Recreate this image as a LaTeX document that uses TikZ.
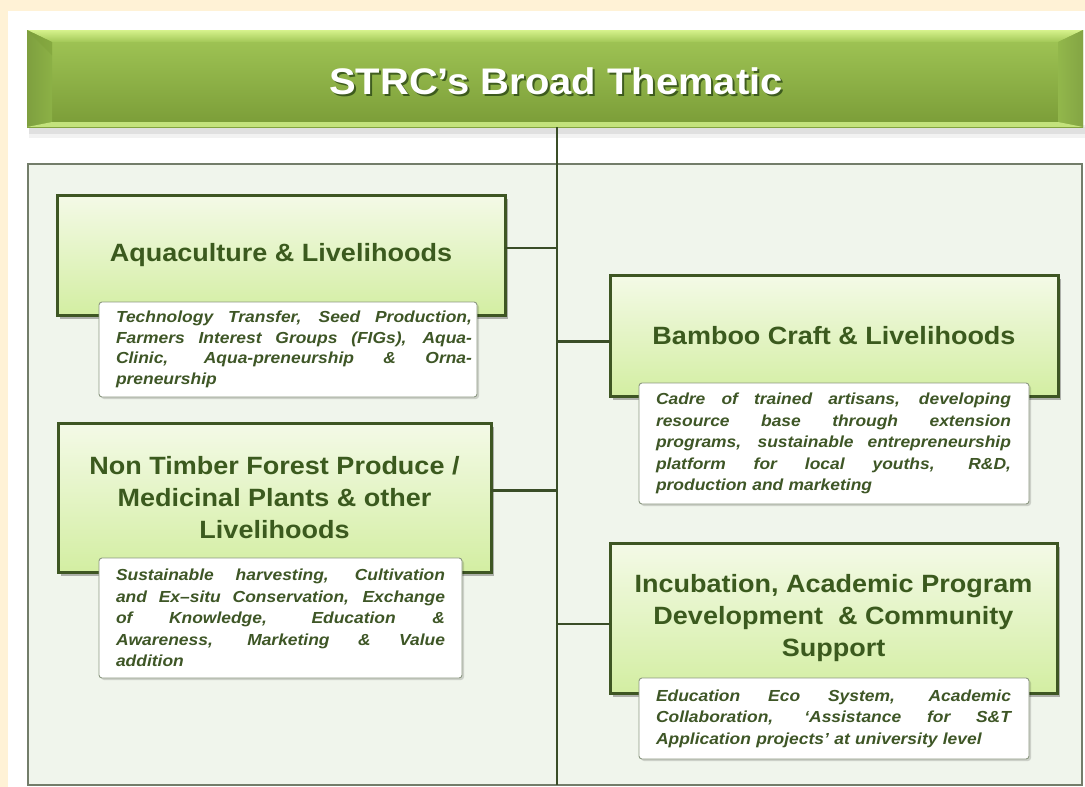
\documentclass[tikz,border=0pt]{standalone}
\usepackage{fontspec}
\setmainfont{Liberation Sans}
\newfontfamily\ttlfont{Liberation Sans}[FakeStretch=1.08]
\newfontfamily\subfont{Liberation Sans}[FakeStretch=1.09]
\usetikzlibrary{shadows}
\definecolor{cream}{HTML}{FFF2D6}
\definecolor{panelfill}{HTML}{F0F5EC}
\definecolor{panelline}{HTML}{737D6A}
\definecolor{bantop}{HTML}{D6F28C}
\definecolor{banhi}{HTML}{A2C757}
\definecolor{banlo}{HTML}{7A9C37}
\definecolor{banleft}{HTML}{8CB146}
\definecolor{banright}{HTML}{92B74B}
\definecolor{banbot}{HTML}{C3E27C}
\definecolor{boxline}{HTML}{3E5623}
\definecolor{boxtop}{HTML}{F4FAE7}
\definecolor{boxbot}{HTML}{D3EEA2}
\definecolor{ttlgreen}{HTML}{3B5A1E}
\definecolor{subgreen}{HTML}{3E5626}
\definecolor{subline}{HTML}{8C9882}
\definecolor{connline}{HTML}{3A4D27}
\newlength{\jw}
\newcommand{\jline}[1]{\leavevmode\hbox to \jw{\spaceskip=\fontdimen2\font plus 1fil minus 0.3\fontdimen2\font\relax #1}}
\hbadness=10000 \hfuzz=50pt
\begin{document}
\begin{tikzpicture}[x=1pt,y=-1pt,
  mainbox/.style={draw=boxline, line width=3pt, top color=boxtop, bottom color=boxbot,
    anchor=north west, outer sep=0pt, inner sep=4pt, align=center, text=ttlgreen,
    font=\ttlfont\bfseries\fontsize{25}{32}\selectfont,
    drop shadow={shadow xshift=3pt, shadow yshift=-4pt, fill=black, opacity=0.28}},
  subbox/.style={draw=subline, line width=0.9pt, fill=white, rounded corners=3pt,
    anchor=north west, outer sep=0pt, inner xsep=17pt, inner ysep=0pt, align=left,
    text=subgreen, font=\subfont\bfseries\itshape\fontsize{16}{21.4}\selectfont,
    drop shadow={shadow xshift=2pt, shadow yshift=-2pt, fill=black, opacity=0.15}},
  conn/.style={draw=connline, line width=2.8pt}]
\useasboundingbox (0,0) rectangle (1085,787);
% backgrounds
\fill[cream] (0,0) rectangle (1085,787);
\fill[white] (8,11) rectangle (1085,787);
% banner
\fill[black, opacity=0.07] (29,125) rectangle (1085,134);
\fill[black, opacity=0.05] (29,127) rectangle (1085,138);
\shade[top color=banhi, bottom color=banlo] (27,30) rectangle (1083,127);
\shade[top color=bantop, bottom color=banhi] (27,30) -- (1083,30) -- (1058,42) -- (52,42) -- cycle;
\shade[left color=banleft!90!black, right color=banleft] (27,30) -- (52,42) -- (52,122) -- (27,127) -- cycle;
\fill[banlo, opacity=0.35] (27,30) -- (52,55) -- (52,42) -- cycle;
\shade[left color=banright, right color=banright!90!black] (1083,30) -- (1058,42) -- (1058,122) -- (1083,127) -- cycle;
\fill[banbot] (27,127) -- (52,122) -- (1058,122) -- (1083,127) -- cycle;
\node[font=\ttlfont\bfseries\fontsize{37}{40}\selectfont, text=black!80!green!50!black, opacity=0.55] at (558,83.5) {STRC’s Broad Thematic};
\node[font=\ttlfont\bfseries\fontsize{37}{40}\selectfont, text=white] (title) at (556,81.5) {STRC’s Broad Thematic};
% panel
\draw[fill=panelfill, draw=panelline, line width=1.6pt] (28,164) rectangle (1082,785);
% spine
\coordinate (stop) at (557,127);
\coordinate (sbot) at (557,785);
\draw[conn] (stop) -- (sbot);
% main boxes
\node[mainbox, minimum width=448pt, minimum height=120pt] (aqua) at (57,195) {Aquaculture \& Livelihoods};
\node[mainbox, minimum width=448pt, minimum height=121pt] (bamboo) at (610,275) {Bamboo Craft \& Livelihoods};
\node[mainbox, minimum width=433pt, minimum height=149pt] (ntfp) at (58,423) {Non Timber Forest Produce /\\Medicinal Plants \& other\\Livelihoods};
\node[mainbox, minimum width=447pt, minimum height=150pt] (incub) at (610,543) {Incubation, Academic Program\\Development \ \& Community\\Support};
% connectors
\draw[conn] ([yshift=7pt]aqua.east) -- ([yshift=7pt]aqua.east -| stop);
\draw[conn] ([yshift=7pt]ntfp.east) -- ([yshift=7pt]ntfp.east -| stop);
\draw[conn] ([yshift=-6pt]bamboo.west) -- ([yshift=-6pt]bamboo.west -| stop);
\draw[conn] ([yshift=-6pt]incub.west) -- ([yshift=-6pt]incub.west -| stop);
% sub boxes
\node[subbox, text width=344pt, minimum width=378pt, minimum height=95pt,
  font=\subfont\bfseries\itshape\fontsize{16}{20.6}\selectfont] (aquasub) at (99,302) {\setlength{\jw}{356pt}%
\jline{Technology Transfer, Seed Production,}\\
\jline{Farmers Interest Groups (FIGs), Aqua-}\\
\jline{Clinic, Aqua-preneurship \& Orna-}\\
preneurship};
\node[subbox, text width=356pt, minimum width=390pt, minimum height=121pt] (bamsub) at (639,383) {\setlength{\jw}{355pt}%
\jline{Cadre of trained artisans, developing}\\
\jline{resource base through extension}\\
\jline{programs, sustainable entrepreneurship}\\
\jline{platform for local youths, R\&D,}\\
production and marketing};
\node[subbox, text width=329pt, minimum width=363pt, minimum height=120pt] (ntfpsub) at (99,558) {\setlength{\jw}{329pt}%
\jline{Sustainable harvesting, Cultivation}\\
\jline{and Ex–situ Conservation, Exchange}\\
\jline{of Knowledge, Education \&}\\
\jline{Awareness, Marketing \& Value}\\
addition};
\node[subbox, text width=356pt, minimum width=390pt, minimum height=81pt] (incsub) at (639,678) {\setlength{\jw}{355pt}%
\jline{Education Eco System, Academic}\\
\jline{Collaboration, ‘Assistance for S\&T}\\
Application projects’ at university level};
\end{tikzpicture}
\end{document}
